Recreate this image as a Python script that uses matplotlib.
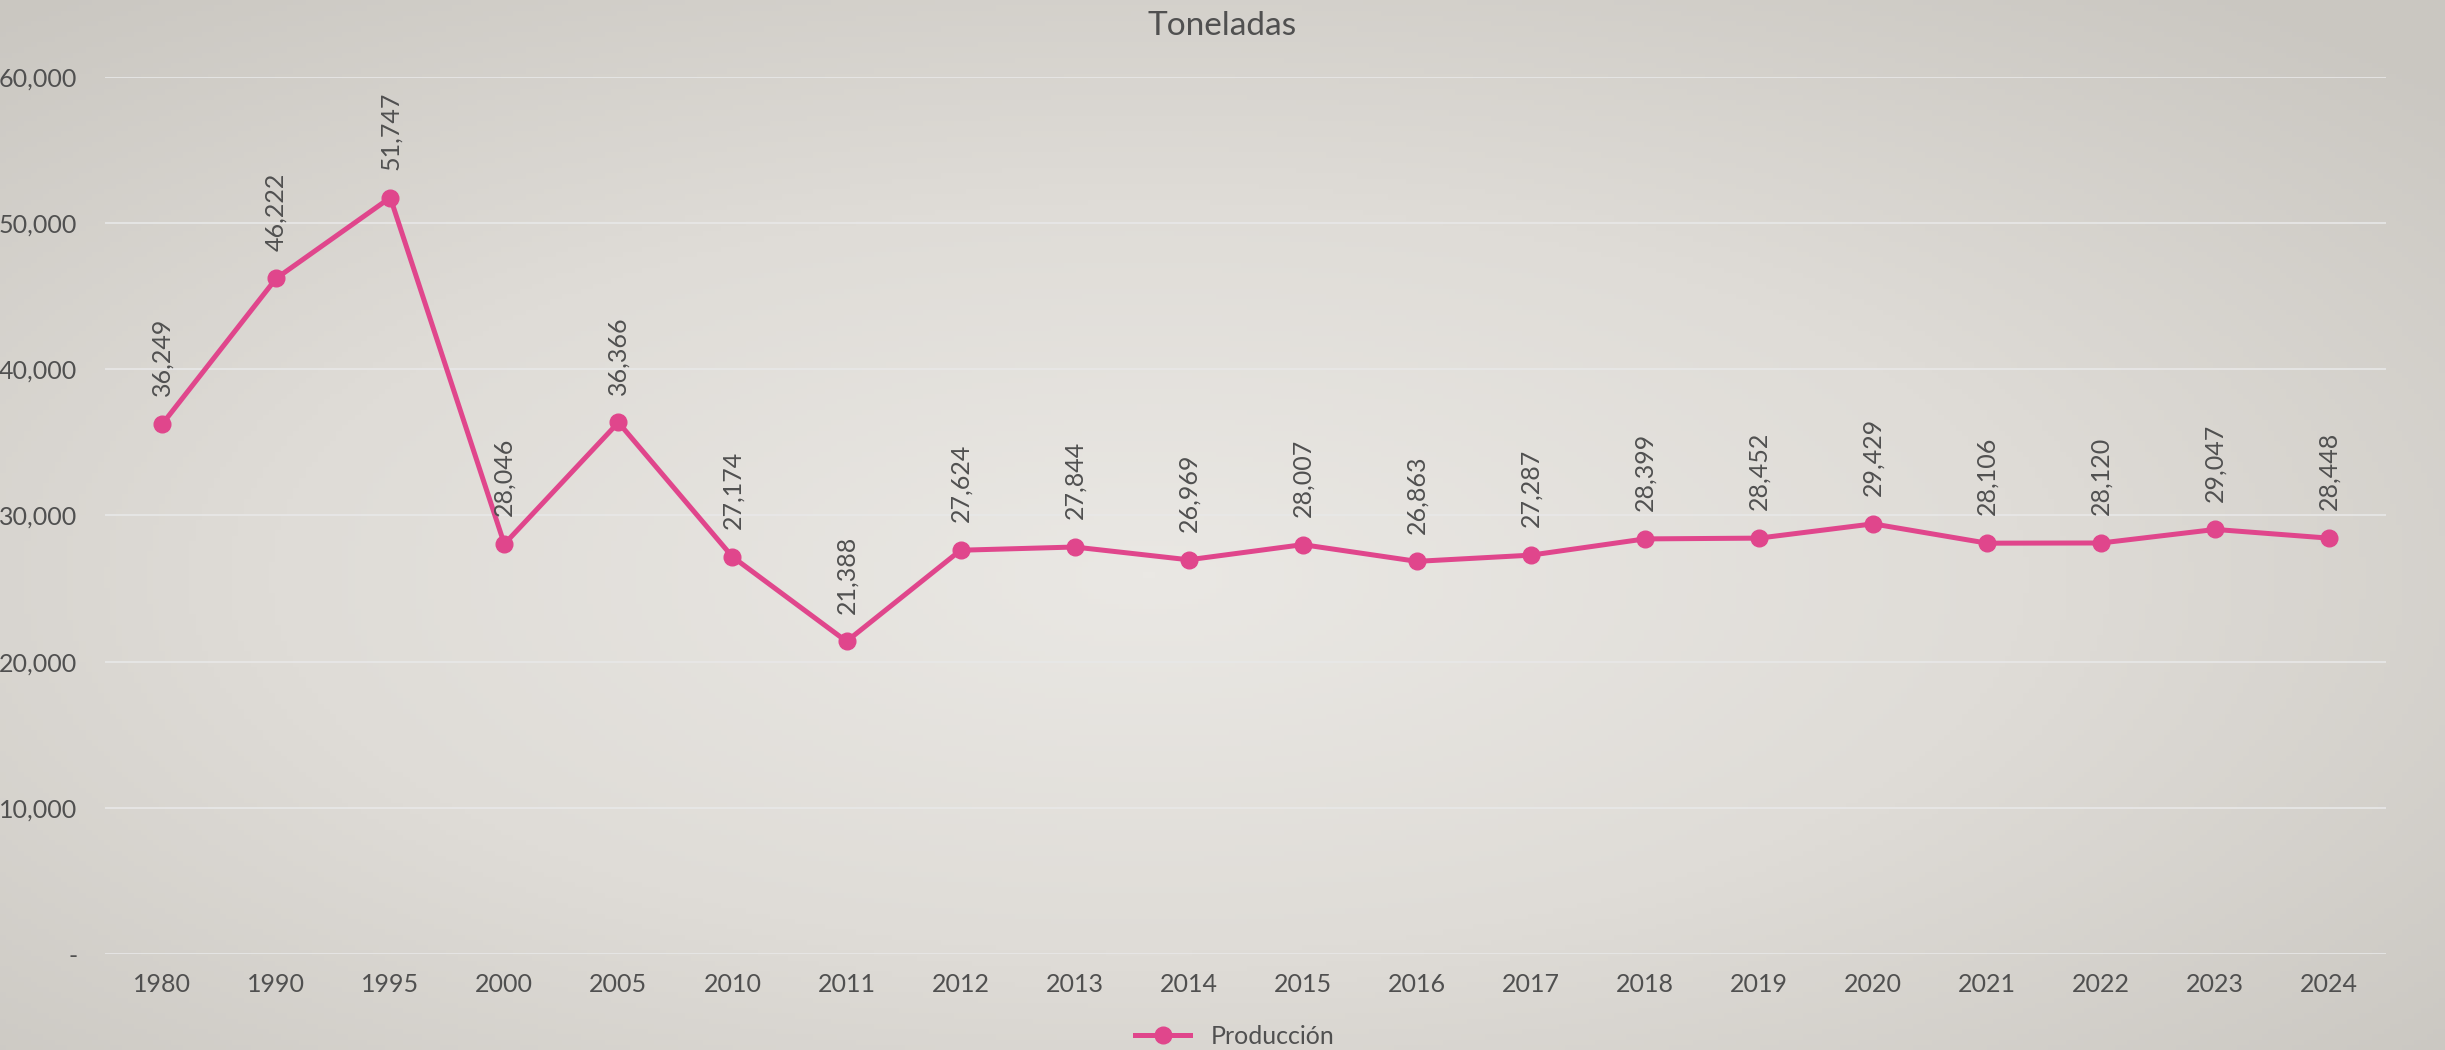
import numpy as np
import matplotlib.pyplot as plt
from matplotlib.colors import LinearSegmentedColormap
from matplotlib.ticker import FuncFormatter

plt.rcParams['font.family'] = ['Lato', 'DejaVu Sans']

# Data
years = ["1980", "1990", "1995", "2000", "2005", "2010", "2011", "2012", "2013", "2014",
         "2015", "2016", "2017", "2018", "2019", "2020", "2021", "2022", "2023", "2024"]
produccion = [36249, 46222, 51747, 28046, 36366, 27174, 21388, 27624, 27844, 26969,
              28007, 26863, 27287, 28399, 28452, 29429, 28106, 28120, 29047, 28448]
y_ticks = [0, 10000, 20000, 30000, 40000, 50000, 60000]

text_col = "#505050"
line_col = "#E0468C"

fig = plt.figure(figsize=(24.45, 10.5), dpi=100)

# radial background gradient (light centre, greyer corners)
bg = fig.add_axes([0, 0, 1, 1], zorder=-10)
gx, gy = np.meshgrid(np.linspace(0, 1, 400), np.linspace(0, 1, 200))
r = np.sqrt(((gx - 0.47) / 1.0) ** 2 + ((gy - 0.45) / 1.0) ** 2)
r = np.clip(r / 0.72, 0, 1)
cmap = LinearSegmentedColormap.from_list("bg", ["#EAE8E4", "#DFDCD7", "#CAC7C1"])
bg.imshow(r, cmap=cmap, extent=(0, 1, 0, 1), origin="lower", aspect="auto", vmin=0, vmax=1)
bg.axis("off")

ax = fig.add_axes([0.043, 0.0914, 0.933, 0.8353])
ax.patch.set_alpha(0)
x = np.arange(len(years))
ax.plot(x, produccion, color=line_col, lw=3.6, marker="o", markersize=12,
        label="Producción", zorder=3)

for xi, v in zip(x, produccion):
    ax.annotate(f"{v:,}", (xi, v), xytext=(0, 20), textcoords="offset points",
                rotation=90, ha="center", va="bottom", fontsize=18, color=text_col)

ax.set_xlim(-0.5, len(years) - 0.5)
ax.set_ylim(0, 60000)
ax.set_xticks(x)
ax.set_xticklabels(years)
ax.set_yticks(y_ticks)
ax.yaxis.set_major_formatter(FuncFormatter(lambda v, p: "-" if v == 0 else f"{int(v):,}"))
ax.tick_params(axis="both", length=0, labelsize=18, labelcolor=text_col)
ax.tick_params(axis="y", pad=20)
ax.tick_params(axis="x", pad=14)
ax.grid(axis="y", color="#E8E8E8", lw=1.2)
ax.set_axisbelow(True)
for s in ax.spines.values():
    s.set_visible(False)

fig.text(0.5, 0.975, "Toneladas", ha="center", va="center", fontsize=24, color=text_col)
fig.legend(loc="center", bbox_to_anchor=(0.505, 0.013), frameon=False, fontsize=18,
           labelcolor=text_col, handlelength=2.2)

fig.savefig("out.png", dpi=100)
